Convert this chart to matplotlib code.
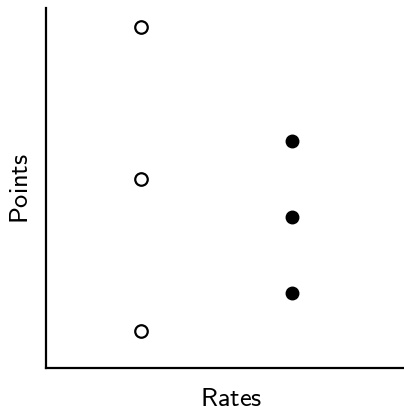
import matplotlib
matplotlib.use("Agg")
import matplotlib.pyplot as plt

plt.rcParams["mathtext.fontset"] = "cm"

# open markers
open_x = [1, 1, 1]
open_y = [0, 2, 4]
# filled markers
filled_x = [2, 2, 2]
filled_y = [0.5, 1.5, 2.5]

fig = plt.figure(figsize=(4.04, 4.07), dpi=100)
# axes runs a little past the right edge of the figure
ax = fig.add_axes([0.114, 0.096, 0.916, 0.884])

ax.plot(open_x, open_y, "o", ms=9, mfc="white", mec="black", mew=1.6, ls="none")
ax.plot(filled_x, filled_y, "o", ms=9, mfc="black", mec="black", ls="none")

ax.set_xlim(0.371, 2.821)
ax.set_ylim(-0.49, 4.25)
ax.set_xticks([])
ax.set_yticks([])
for side in ["top", "right"]:
    ax.spines[side].set_visible(False)
for side in ["left", "bottom"]:
    ax.spines[side].set_linewidth(1.6)

ax.set_xlabel(r"$\mathsf{Rates}$", fontsize=19, labelpad=13)
ax.set_ylabel(r"$\mathsf{Points}$", fontsize=19, labelpad=9)

fig.savefig("out.png", dpi=100)
